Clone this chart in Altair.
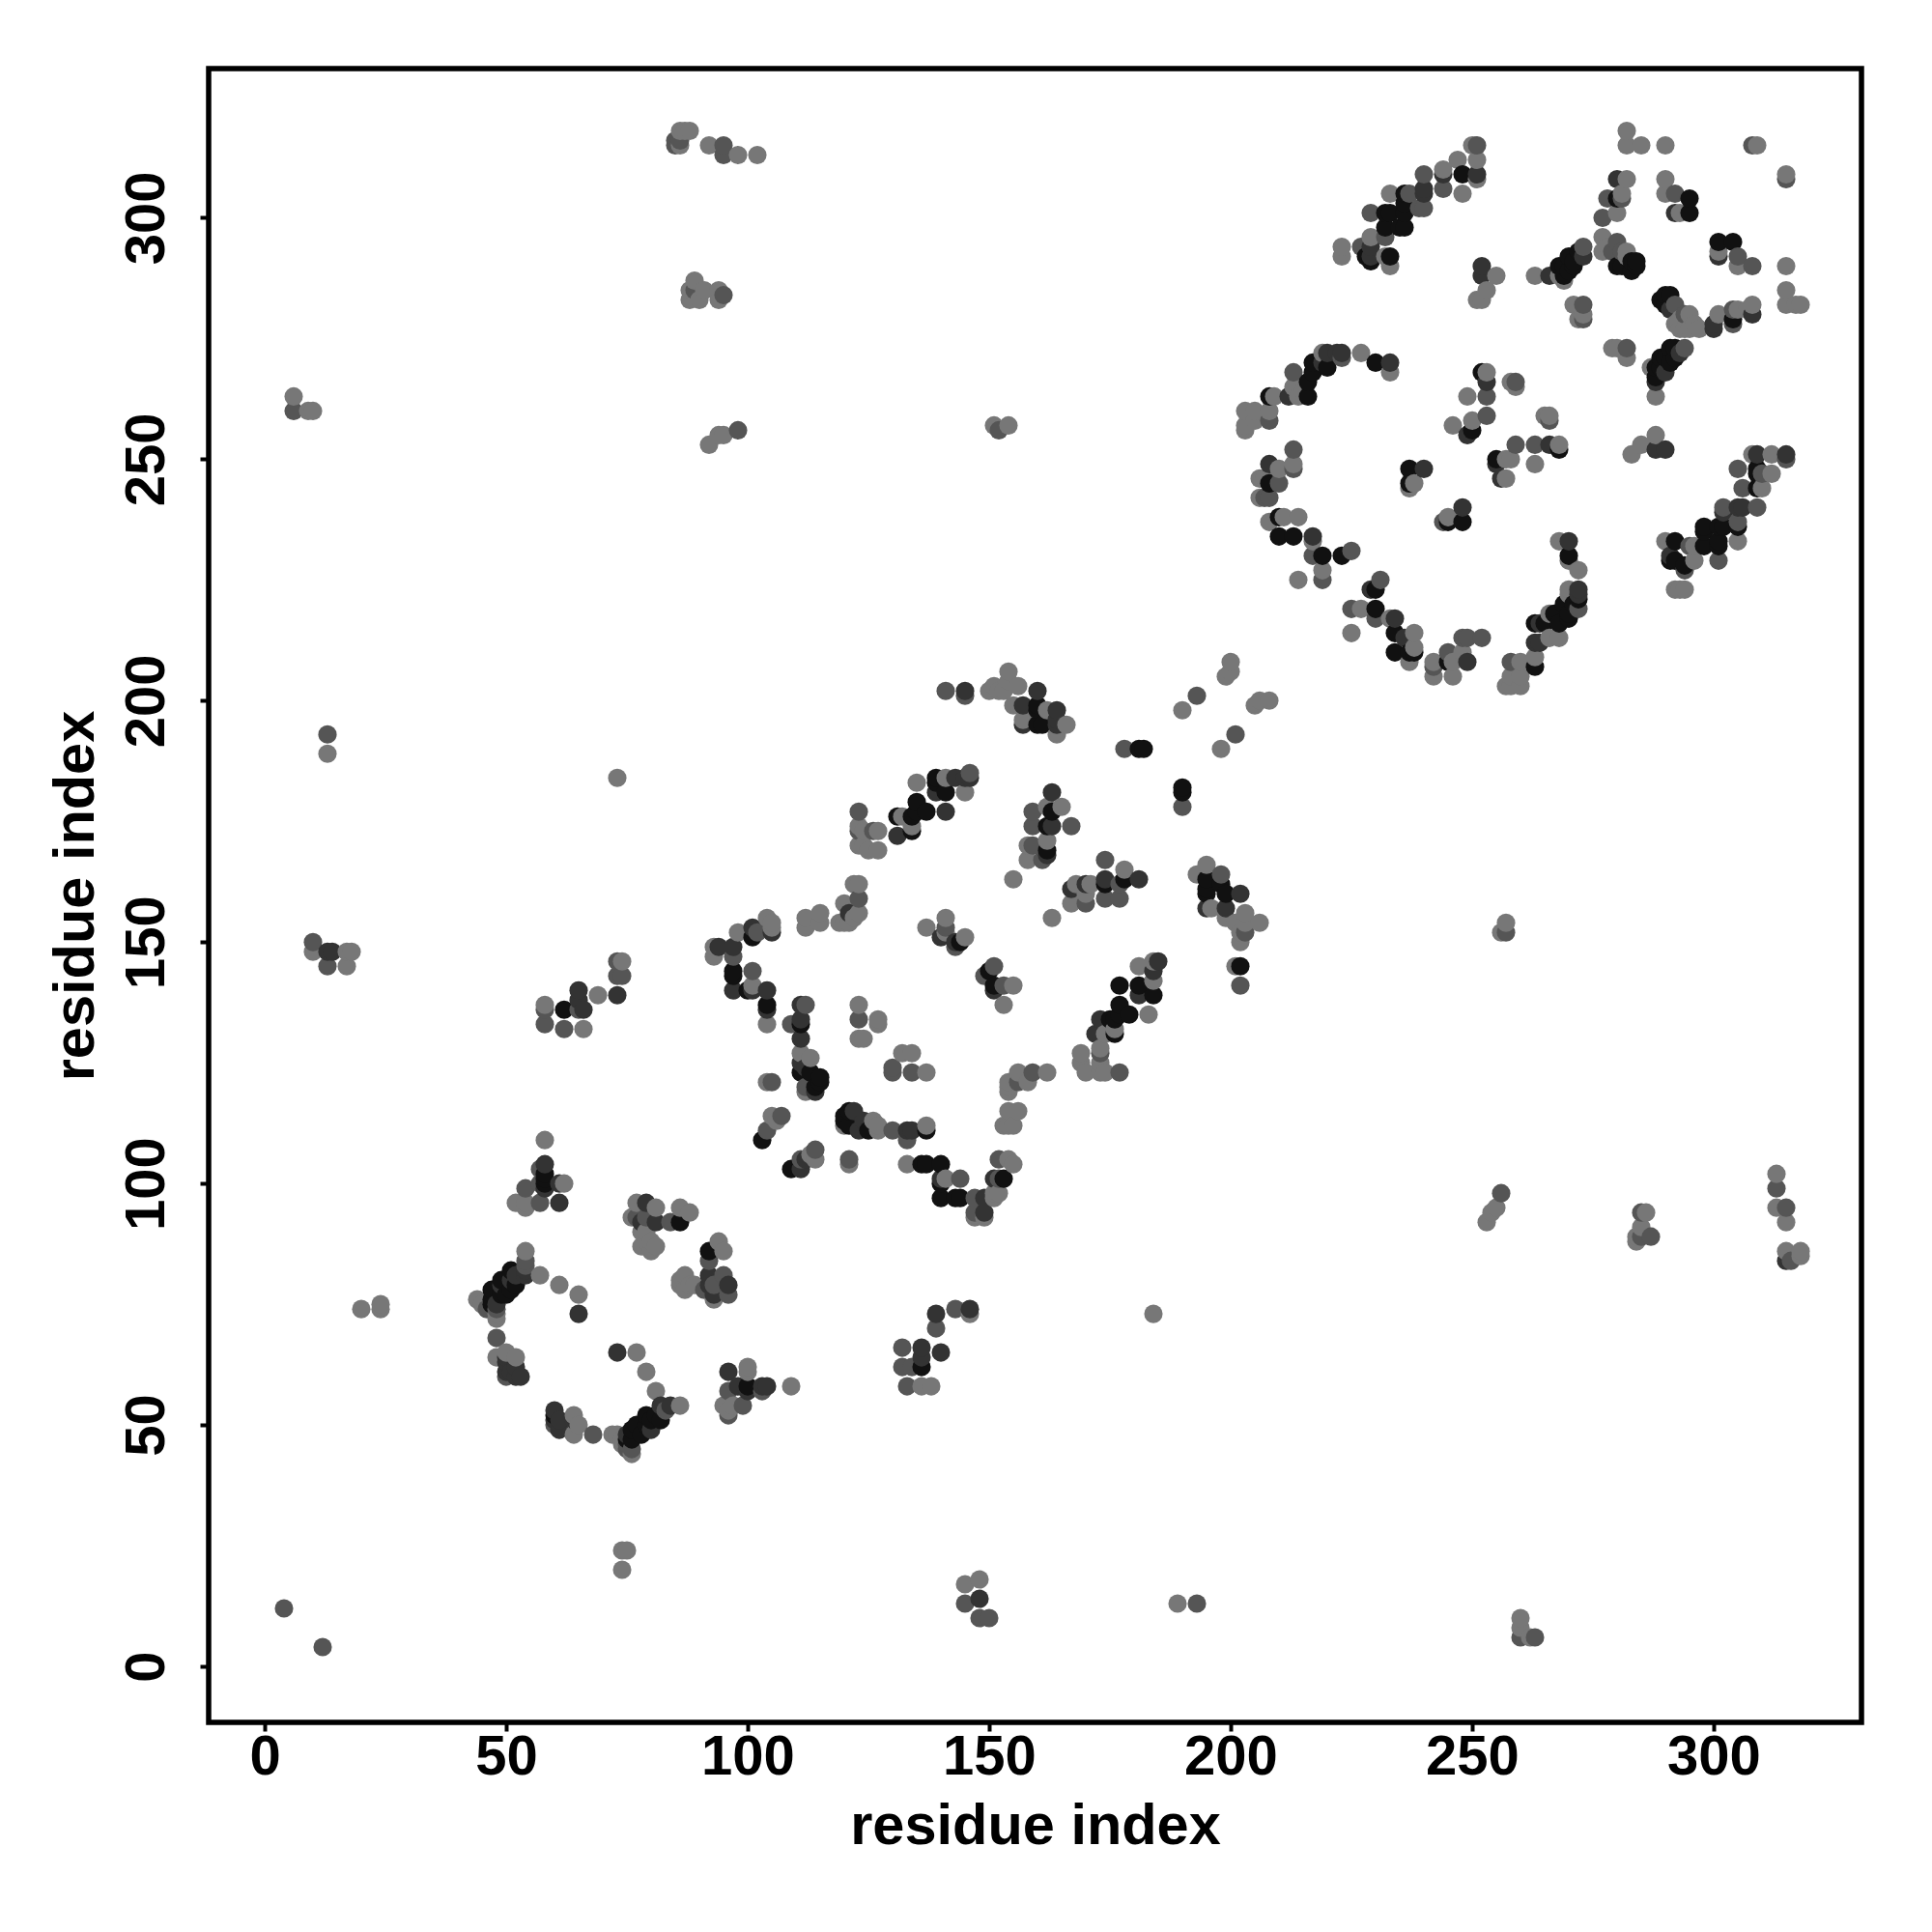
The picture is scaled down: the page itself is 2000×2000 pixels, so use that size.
import altair as alt
import pandas as pd

# (residue x, residue y, shade index)
shades = ["#777777", "#555555", "#333333", "#111111"]

far_points = [(4,12,1),(12,4,1),(20,74,0),(24,75,0),(24,74,0),(74,24,0),(75,24,0),(74,20,0),
 (6,263,0),(6,260,1),(9,260,0),(10,260,0),(13,193,1),(13,189,0),(73,184,0),
 (10,150,1),(10,148,0),(13,148,2),(14,148,2),(13,145,1),(17,148,0),(17,145,0),(18,148,0),
 (184,73,0),(145,17,0),(148,18,0),(145,13,1),(148,14,2),(148,10,1),(150,10,1),
 (189,13,0),(193,13,1),(260,10,0),(260,8,0),(260,6,1),(262,6,0),(263,6,1),
 (257,152,1),(257,154,0),(256,152,0),(256,98,1),(255,95,0),(254,94,0),(253,92,0),
 (285,94,1),(286,94,0),(284,89,0),(285,89,1),(287,89,1),(284,88,0),(285,91,0),
 (313,102,0),(313,99,1),(313,95,0),(315,95,1),(315,92,0),(315,86,0),(316,84,1),(318,86,0),(318,85,0),(315,84,2),
 (85,315,1),(86,315,0),(85,316,1),(87,318,0),(86,318,0),(88,318,0),(86,316,1),(92,315,0),(95,315,1),(95,313,1),(98,313,0),(102,313,0),
 (88,285,0),(89,285,1),(88,283,0),(90,283,0),(89,287,0),(91,285,0),(94,285,0),(95,284,1),(94,283,0),
 (92,253,0),(94,255,0),(95,255,0),(98,256,1),(151,257,0),(152,256,1),(154,257,0),
 (58,137,0),(58,133,1),(58,136,1),(62,136,3),(62,132,1),(65,140,2),(65,138,2),(66,136,2),(66,132,0),(65,136,1),
 (69,139,0),(73,139,2),(73,143,1),(74,146,0),(73,146,1),(74,143,1),
 (139,73,2),(143,74,1),(146,74,2),(146,73,0),(139,70,1),(132,66,1),(136,66,2),(140,65,2),(136,62,3),(132,62,1),(134,62,1),(133,58,1),(136,58,0),(138,58,0),(136,64,2)]

lower_ring = [(58,109,0),(58,104,2),(57,103,1),(58,102,3),(58,100,3),(54,99,1),(62,100,0),(61,100,2),
 (52,96,0),(54,96,0),(54,95,0),(57,96,1),(61,96,2),(58,99,2),(57,100,1),(58,101,3),
 (54,86,0),(54,84,1),(54,83,1),(54,82,2),(51,82,3),(52,81,2),(54,81,2),(49,80,3),(51,80,2),(52,79,3),(49,79,2),(51,78,3),(47,78,3),(49,77,3),(50,77,3),(47,76,3),(48,75,2),(44,76,0),(45,75,0),(46,74,1),(48,74,1),(47,75,3),(48,73,0),(48,72,0),
 (57,81,0),(61,79,0),(65,77,0),(65,73,2),(48,68,1),(48,64,0),(50,65,0),(50,64,2),(52,64,0),(50,63,2),(52,62,2),(50,61,2),(50,60,1),(52,60,2),(53,60,2),(51,61,2),
 (60,53,2),(60,52,3),(60,51,2),(60,50,1),(61,51,2),(61,49,2),(64,52,0),(64,51,2),(65,50,0),(64,48,0),(68,48,1),
 (72,48,0),(73,48,0),(74,47,0),(75,48,2),(76,47,3),(76,49,3),(77,50,3),(78,48,3),(79,52,3),(80,49,2),(81,57,0),(77,65,0),(73,65,2),(79,61,0),
 (82,54,2),(84,54,2),(86,54,0),(82,51,3),(80,51,3),(79,50,3),(81,52,3),(83,53,1),(75,46,1),(76,44,0),(75,45,1),(74,46,0),(76,45,1),(75,47,3),
 (96,61,2),(100,62,0),(100,61,0),(96,57,1),(98,58,2),(100,58,3),(100,57,2),(103,58,2),(104,58,2),(109,58,0),(99,54,1),(95,54,0),(97,54,0),(96,52,1),(96,53,0),(103,57,1),
 (94,88,0),(95,86,0),(92,86,3),(92,84,1),(92,81,2),(92,79,2),(95,81,1),(96,79,2),(96,77,1),(93,79,1),(93,77,2),(93,76,0),(91,78,1),
 (87,81,0),(86,80,0),(87,78,0),(88,79,0),(89,79,0),(86,79,0),
 (77,96,0),(79,96,2),(81,95,0),(76,93,0),(77,93,1),(79,93,1),(81,92,2),(78,92,2),(84,92,1),(86,92,3),(86,95,0),(88,94,0),(78,90,0),(79,88,0),(81,87,0),(78,87,0),(80,86,0),(79,90,0),(80,88,0)]

middle_ring = [(141,202,1),(145,202,2),(145,201,1),(154,206,0),(151,203,0),(150,202,0),(152,202,0),(154,204,0),(156,203,0),(153,202,0),(160,202,2),(155,199,0),(157,199,2),(160,199,3),(160,198,3),(164,198,2),(162,198,0),(157,196,0),(157,195,2),(160,195,3),(161,195,3),(164,195,2),(166,195,0),(164,193,0),(164,196,2),
 (178,190,1),(181,190,3),(182,190,3),(190,198,0),(193,201,1),(199,205,0),(200,208,0),(200,206,0),(205,199,0),(206,200,0),(208,200,0),(198,190,0),(201,193,1),(190,182,3),(190,181,3),(190,178,1),
 (123,177,1),(123,174,0),(123,173,1),(124,173,0),(127,173,0),(126,173,1),(123,170,0),(125,169,0),(127,169,0),(124,170,0),
 (131,176,3),(131,172,2),(134,173,3),(132,176,0),(134,174,0),(134,176,3),(135,179,3),(135,177,3),(137,177,3),(135,183,0),(141,177,2),(139,184,3),(139,181,2),(139,183,3),(141,181,3),(141,184,0),(143,184,2),(145,181,0),(145,184,2),(146,185,1),(146,184,2),
 (163,181,2),(159,177,1),(165,178,0),(162,178,0),(163,177,3),(163,174,2),(162,174,3),(159,174,1),(167,174,1),(162,171,0),(158,170,0),(159,170,1),(162,169,3),(162,168,2),(158,167,0),(161,167,1),(155,163,0),
 (174,167,1),(178,165,0),(167,161,2),(168,162,0),(170,162,2),(171,162,0),(174,163,2),(174,162,3),(178,163,3),(181,163,2),(177,162,1),(167,158,0),(170,158,1),(170,160,0),(174,159,1),(177,159,1),(163,155,0),
 (195,166,0),(193,164,0),(195,163,3),(198,164,1),(198,162,3),(195,161,3),(195,160,3),(199,160,3),(202,160,2),(195,157,2),(196,157,0),(199,157,2),(199,155,0),(203,156,0),(203,154,0),(206,154,0),(202,152,0),(202,150,0),(203,152,1),(201,154,0),(201,145,0),(202,145,3),(202,141,1),
 (185,146,2),(184,146,0),(184,144,2),(181,145,0),(184,142,0),(177,141,3),(181,141,3),(181,139,2),(184,139,3),(183,135,0),(177,137,3),(179,135,3),(177,135,3),(173,134,2),(176,134,3),(175,134,3),(172,131,2),(176,131,3),(176,132,0),(174,131,0),
 (169,127,0),(173,128,0),(173,127,1),(169,125,0),(173,125,0),(170,123,0),(173,123,0),(174,123,0),(177,123,1),
 (162,123,0),(159,123,1),(156,123,0),(154,121,0),(158,121,0),(156,121,1),(154,120,0),(154,119,0),(154,115,0),(156,115,0),(154,112,0),(155,112,0),(153,112,0),
 (154,105,0),(152,105,1),(155,104,0),(153,101,3),(151,101,2),(152,101,1),(151,98,0),(152,98,0),(149,97,2),(149,94,2),(147,97,1),(147,93,0),(149,93,0),(147,94,1),(151,97,0),
 (144,101,1),(140,104,3),(137,104,3),(136,104,3),(133,104,0),(140,101,2),(141,101,0),(140,100,3),(140,97,3),(143,97,3),(144,97,3),
 (137,112,0),(137,111,3),(134,111,2),(133,111,2),(133,109,1),(130,111,1),(127,111,0),(126,113,0),(124,113,2),(123,111,2),(121,115,3),(122,115,2),(120,114,3),(120,113,3),(120,112,0),(121,112,3),(125,111,3),(127,112,0),
 (107,114,1),(105,114,0),(104,111,1),(103,109,3),(106,113,0),(114,107,1),(112,105,2),(114,105,0),(109,103,3),(111,103,2),(113,106,0),(111,105,1),(121,105,1),(121,104,0),
 (112,137,1),(111,137,2),(111,134,2),(111,133,3),(109,133,1),(111,130,2),(111,127,0),(113,126,0),(111,125,2),(112,124,2),(113,123,3),(111,123,3),(115,122,3),(114,120,3),(112,120,1),(115,121,3),(112,119,0),(114,119,2),(104,121,0),(105,121,1),
 (123,137,0),(123,134,1),(127,134,0),(127,133,0),(123,130,0),(124,130,0),(130,124,1),(130,123,1),(132,127,0),(134,127,0),(134,123,1),(137,123,0),
 (141,155,0),(141,153,1),(137,153,0),(140,151,2),(143,149,1),(144,150,3),(145,151,0),(143,150,2),(141,152,0),
 (151,145,1),(149,143,1),(150,144,3),(151,141,3),(151,140,2),(153,141,1),(155,141,0),(153,137,0),
 (93,149,0),(94,149,2),(93,147,0),(97,149,2),(97,147,1),(98,152,0),(101,153,2),(101,151,3),(102,152,1),(104,155,0),(105,154,0),(105,152,2),(105,153,0),
 (97,144,3),(97,143,3),(97,140,2),(101,144,1),(101,141,0),(100,140,3),(101,140,2),(104,140,2),(104,137,3),(104,136,2),(104,133,0),
 (112,155,0),(112,153,0),(115,156,0),(115,154,0),(123,162,0),(122,162,0),(123,159,1),(120,158,0),(123,156,0),(120,154,0),(119,154,0),(121,156,2),(121,154,0),(122,155,0)]

top_arm = [(251,315,1),(250,315,0),(251,312,0),(247,312,0),(251,309,2),(251,308,0),(248,309,3),(244,310,0),(244,309,2),(240,309,1),(240,306,2),(240,305,2),(244,306,1),(248,305,0),(233,305,0),(236,305,3),(237,305,1),(240,302,1),(239,302,1),(236,303,3),(236,301,3),(233,301,3),(232,301,3),(229,301,1),(232,298,3),(236,298,3),(235,298,3),(229,296,0),(232,296,1),(227,294,1),(223,294,0),(223,292,0),(229,294,2),(229,292,2),(233,292,3),(233,290,0),(232,292,0),(228,292,3),(229,291,3),
 (252,290,2),(252,288,2),(255,288,0),(253,285,0),(251,283,0),(252,283,0)]

top_right = [(282,318,0),(282,315,0),(285,315,0),(290,315,0),(308,315,1),(309,315,0),(315,309,0),(315,308,1),
 (280,308,2),(282,308,0),(281,305,0),(281,304,1),(280,304,3),(278,304,1),(280,301,0),(277,300,1),
 (277,296,0),(277,293,0),(280,295,1),(281,293,1),(282,292,0),(283,291,3),(284,291,3),(284,290,3),(283,289,3),(281,290,3),(280,290,3),(278,294,0),(279,293,1),(282,293,0),
 (273,294,1),(273,292,2),(272,293,3),(270,292,3),(271,291,3),(269,290,3),(271,290,3),(268,290,3),(270,289,3),(269,288,3),(266,288,2),(263,288,0),(268,288,0),(269,287,0),
 (271,282,0),(273,282,1),(273,280,0),(272,279,0),(273,279,1),
 (290,308,0),(290,305,0),(292,305,1),(295,304,3),(295,301,3),(292,301,2),(293,301,0),
 (301,295,3),(304,295,3),(301,293,0),(301,292,2),(305,292,1),(305,290,0),(308,290,1),(315,290,0),(315,285,0),(315,282,0),(318,282,0),(317,282,0),
 (290,284,3),(291,284,3),(289,283,3),(292,282,1),(290,282,3),(291,281,2),(294,280,1),(295,280,0),(293,279,0),(296,278,0),(294,277,0),(292,278,0),(295,277,0),(293,277,0),(297,277,0),(300,277,2),(300,278,2),(301,280,0),(304,281,1),(304,278,1),(304,279,3),(305,281,0),(308,282,0),(308,280,2),(307,281,0),
 (279,273,0),(280,273,0),(282,273,1),(282,271,0),(294,273,1),(291,273,3),(292,273,3),(292,271,3),(293,272,2),(290,271,3),(289,271,3),(291,270,3),(288,269,3),(289,269,3),(290,268,2),(287,269,0),(288,267,3),(288,266,2),(288,263,0)]

upper_ring = [(227,272,0),(230,270,3),(233,270,2),(233,268,0),(223,272,2),(223,271,1),(220,272,2),(219,272,0),(222,272,2),(217,270,3),(220,269,3),(219,270,2),(217,268,3),(213,268,1),(216,266,3),(213,265,0),(216,263,3),(212,263,2),(208,263,3),(209,263,0),(214,263,0),(215,264,0),
 (203,260,0),(205,260,0),(208,260,0),(203,257,0),(208,258,1),(205,258,0),(203,256,0),
 (213,252,1),(213,249,0),(213,248,1),(208,249,2),(210,248,0),(206,246,0),(208,245,3),(210,245,1),(208,242,1),(206,242,0),(207,246,0),(207,242,1),
 (208,237,0),(210,238,3),(211,238,0),(214,238,0),(210,234,3),(213,234,3),(217,234,2),(217,233,0),(217,230,1),(219,230,3),(223,230,3),(225,231,1),(214,225,0),(219,227,0),(219,225,1),
 (231,225,1),(230,223,3),(229,223,2),(225,219,1),(227,219,0),(230,219,3),(230,217,1),(225,214,0),(234,217,2),(233,217,0),(234,214,3),(234,210,3),(238,214,0),(238,211,0),(237,208,0),(237,210,3),(236,213,2),(238,210,3),
 (242,208,0),(242,205,0),(242,207,1),(245,210,1),(245,208,3),(246,208,0),(246,205,0),(248,210,0),(249,208,2),(248,213,1),(249,213,1),(252,213,1),
 (258,208,1),(260,208,0),(263,209,0),(263,207,3),(258,205,0),(260,205,0),(257,203,0),(260,203,0),(258,203,0),
 (263,216,3),(263,212,2),(264,216,2),(265,216,3),(264,212,2),(266,213,0),(268,213,0),(266,218,0),(267,218,3),(268,216,3),(270,217,3),(269,220,3),(270,218,3),(272,223,2),(272,222,2),(270,223,0),(272,219,1),(272,221,3),(271,220,3),(270,222,0),
 (270,233,2),(268,233,0),(270,230,3),(270,229,0),(272,227,0),
 (253,268,0),(252,268,3),(253,266,2),(253,263,1),(249,263,0),(253,259,1),(246,257,0),(250,258,0),(250,256,3),(249,255,2),(259,266,1),(259,265,0),(258,266,0),
 (266,259,0),(265,259,0),(266,258,1),(259,253,1),(263,253,1),(266,253,2),(268,253,0),(268,252,3),(263,249,0),(257,250,0),(258,250,0),(255,250,3),(255,249,2),(257,246,0),(256,246,2),
 (237,248,3),(240,248,2),(237,245,3),(238,245,0),(237,244,0),(248,240,2),(248,237,3),(245,238,0),(244,237,1),(245,237,3)]

side_arm = [(288,255,0),(285,253,0),(283,251,0),(288,252,2),(290,252,2),
 (309,251,2),(308,251,0),(312,251,0),(315,251,2),(315,250,1),(305,248,1),(309,248,3),(312,247,0),(309,247,3),(310,247,1),(306,244,1),(310,244,0),(309,244,3),
 (302,240,1),(302,239,2),(305,240,2),(306,240,2),(309,240,1),(305,237,1),(305,236,3),(301,236,3),(302,236,3),(298,236,3),(298,235,3),(298,232,3),(301,233,3),(301,232,3),(305,233,0),(301,229,1),
 (290,233,0),(292,233,3),(292,229,3),(291,230,2),(291,229,3),(295,232,1),(296,232,0),(294,228,3),(296,229,0),(294,227,1),(292,223,0),(294,223,0),(293,223,0)]

rows = sorted(far_points + lower_ring + middle_ring + top_arm + top_right + upper_ring + side_arm, key=lambda r: (r[0], r[1]))
df = pd.DataFrame(rows, columns=["x", "y", "shade"])
df["colour"] = [shades[s] for s in df["shade"]]

tick_values = [0, 50, 100, 150, 200, 250, 300]
FONT = "Liberation Sans"

x_axis = alt.Axis(values=tick_values, title="residue index", grid=False, domain=False,
                  tickColor="black", tickWidth=4, tickSize=9, labelFont=FONT, labelFontWeight="bold",
                  labelFontSize=58, labelColor="black", labelPadding=-2, titleFont=FONT, titleFontWeight="bold",
                  titleFontSize=59.5, titleColor="black", titlePadding=13)
y_axis = alt.Axis(values=tick_values, title="residue index", grid=False, domain=False,
                  tickColor="black", tickWidth=4, tickSize=9, labelFont=FONT, labelFontWeight="bold",
                  labelFontSize=58, labelColor="black", labelAngle=270, labelAlign="center", labelBaseline="bottom",
                  labelPadding=26, titleFont=FONT, titleFontWeight="bold",
                  titleFontSize=59.5, titleColor="black", titlePadding=15)

chart = (
    alt.Chart(df)
    .mark_circle(size=365, opacity=1)
    .encode(
        x=alt.X("x:Q", axis=x_axis, scale=alt.Scale(domain=[-11.6, 330.6], nice=False, zero=False)),
        y=alt.Y("y:Q", axis=y_axis, scale=alt.Scale(domain=[-11.6, 330.9], nice=False, zero=False)),
        color=alt.Color("colour:N", scale=None),
    )
    .properties(width=1711, height=1712, autosize=alt.AutoSizeParams(type="none"),
                padding={"left": 208, "top": 63, "right": 60, "bottom": 200}, background="white")
    .configure_view(stroke="black", strokeWidth=5.5)
)
chart.save("out.html", embed_options={"renderer": "svg", "actions": False})
